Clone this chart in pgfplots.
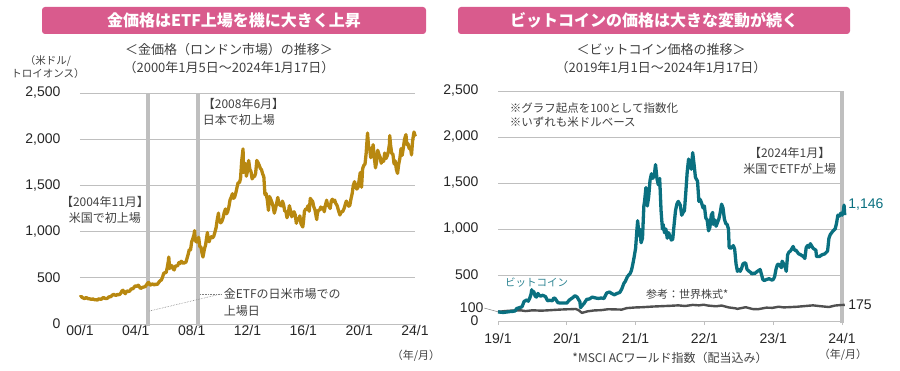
\documentclass[border=0pt]{standalone}
\usepackage{pgfplots}
\pgfplotsset{compat=1.18}
\usepackage{fontspec}
\setmainfont{Liberation Sans}
\newfontfamily\jp{Noto Sans CJK JP}
\definecolor{goldc}{RGB}{184,136,16}
\definecolor{tealc}{RGB}{10,112,128}
\definecolor{stockc}{RGB}{80,80,80}
\definecolor{pinkc}{RGB}{217,91,141}
\definecolor{gridgray}{RGB}{191,191,191}
\definecolor{txt}{RGB}{64,64,64}
\pgfplotsset{
 myax/.style={scale only axis, axis line style={draw=none},
  ymajorgrids, grid style={draw=gridgray, line width=0.9pt},
  ymin=0, ymax=2500,
  ytick={0,500,1000,1500,2000,2500},
  yticklabels={0,500,{1,000},{1,500},{2,000},{2,500}},
  tick align=outside, xtick pos=bottom, ytick pos=left,
  ytick style={draw=none},
  xtick style={draw=gridgray, line width=0.9pt},
  major tick length=4pt,
  tick label style={font=\fontsize{14}{16}\selectfont, text=black!85},
  /pgf/number format/assume math mode=true,
  yticklabel style={xshift=-12pt},
  clip=false}
}
\begin{document}
\begin{tikzpicture}
\path[use as bounding box] (0,0) rectangle (900pt,370pt);
% ---------- left: gold ----------
\begin{axis}[myax, at={(80pt,46pt)}, anchor=south west, width=335pt, height=231pt,
 xmin=2000, xmax=2024,
 xtick={2000,2004,2008,2012,2016,2020,2024},
 xticklabels={00/1,04/1,08/1,12/1,16/1,20/1,24/1},
 xticklabel style={yshift=6pt}]
\draw[gridgray, line width=3.5pt] (axis cs:2004.87,-25) -- (axis cs:2004.87,2500);
\draw[gridgray, line width=3.5pt] (axis cs:2008.46,-25) -- (axis cs:2008.46,2500);
\addplot[goldc, line width=3.3pt, line join=round] coordinates {
(2000.00,290) (2000.08,300) (2000.17,286) (2000.25,280) (2000.33,275) (2000.42,286) (2000.50,282) (2000.58,274) (2000.67,273) (2000.75,270) (2000.83,266) (2000.92,272)
(2001.00,265) (2001.08,262) (2001.17,263) (2001.25,258) (2001.33,272) (2001.42,270) (2001.50,268) (2001.58,273) (2001.67,288) (2001.75,280) (2001.83,276) (2001.92,276)
(2002.00,282) (2002.08,295) (2002.17,294) (2002.25,302) (2002.33,314) (2002.42,321) (2002.50,313) (2002.58,310) (2002.67,319) (2002.75,317) (2002.83,319) (2002.92,333)
(2003.00,357) (2003.08,365) (2003.17,340) (2003.25,328) (2003.33,355) (2003.42,356) (2003.50,351) (2003.58,360) (2003.67,382) (2003.75,379) (2003.83,389) (2003.92,407)
(2004.00,414) (2004.08,405) (2004.17,420) (2004.25,404) (2004.33,384) (2004.42,392) (2004.50,398) (2004.58,400) (2004.67,405) (2004.75,420) (2004.83,439) (2004.92,450)
(2005.00,424) (2005.08,423) (2005.17,434) (2005.25,429) (2005.33,422) (2005.42,435) (2005.50,424) (2005.58,437) (2005.67,456) (2005.75,470) (2005.83,476) (2005.92,510)
(2006.00,549) (2006.08,555) (2006.17,557) (2006.25,610) (2006.33,680) (2006.36,725) (2006.42,600) (2006.50,633) (2006.58,632) (2006.67,598) (2006.75,585) (2006.83,627) (2006.92,629)
(2007.00,631) (2007.08,664) (2007.17,655) (2007.25,679) (2007.33,667) (2007.42,655) (2007.50,665) (2007.58,665) (2007.67,712) (2007.75,754) (2007.83,806) (2007.92,803)
(2008.00,889) (2008.08,922) (2008.17,968) (2008.21,1011) (2008.25,909) (2008.33,888) (2008.42,890) (2008.50,939) (2008.58,839) (2008.67,829) (2008.75,760) (2008.81,725) (2008.92,816)
(2009.00,858) (2009.08,943) (2009.13,990) (2009.17,924) (2009.25,890) (2009.33,928) (2009.42,945) (2009.50,934) (2009.58,949) (2009.67,996) (2009.75,1043) (2009.83,1127) (2009.92,1200) (2009.96,1120)
(2010.00,1118) (2010.08,1095) (2010.17,1113) (2010.25,1148) (2010.33,1205) (2010.42,1245) (2010.50,1193) (2010.58,1215) (2010.67,1271) (2010.75,1343) (2010.83,1370) (2010.92,1410)
(2011.00,1360) (2011.08,1374) (2011.17,1424) (2011.25,1480) (2011.33,1530) (2011.42,1529) (2011.50,1572) (2011.58,1756) (2011.68,1895) (2011.72,1640) (2011.75,1650) (2011.83,1739) (2011.92,1600)
(2012.00,1656) (2012.08,1770) (2012.17,1674) (2012.25,1650) (2012.33,1570) (2012.42,1596) (2012.50,1594) (2012.58,1630) (2012.67,1770) (2012.75,1747) (2012.83,1722) (2012.92,1684)
(2013.00,1671) (2013.08,1627) (2013.17,1593) (2013.25,1400) (2013.33,1414) (2013.42,1343) (2013.50,1230) (2013.58,1380) (2013.67,1348) (2013.75,1316) (2013.83,1275) (2013.92,1200)
(2014.00,1244) (2014.08,1300) (2014.17,1370) (2014.25,1299) (2014.33,1287) (2014.42,1279) (2014.50,1330) (2014.58,1296) (2014.67,1220) (2014.75,1222) (2014.83,1150) (2014.92,1200)
(2015.00,1280) (2015.08,1227) (2015.17,1160) (2015.25,1198) (2015.33,1215) (2015.42,1181) (2015.50,1090) (2015.58,1140) (2015.67,1125) (2015.75,1170) (2015.83,1086) (2015.96,1050)
(2016.00,1097) (2016.08,1220) (2016.17,1246) (2016.25,1242) (2016.33,1280) (2016.42,1220) (2016.50,1360) (2016.58,1341) (2016.67,1326) (2016.75,1267) (2016.83,1238) (2016.96,1130)
(2017.00,1192) (2017.08,1234) (2017.17,1231) (2017.25,1266) (2017.33,1246) (2017.42,1260) (2017.50,1215) (2017.58,1283) (2017.67,1340) (2017.75,1280) (2017.83,1283) (2017.92,1250)
(2018.00,1331) (2018.08,1350) (2018.17,1325) (2018.25,1340) (2018.33,1303) (2018.42,1282) (2018.50,1238) (2018.62,1180) (2018.67,1198) (2018.75,1215) (2018.83,1220) (2018.92,1250)
(2019.00,1291) (2019.08,1330) (2019.17,1300) (2019.25,1275) (2019.33,1284) (2019.42,1359) (2019.50,1413) (2019.58,1500) (2019.67,1540) (2019.75,1495) (2019.83,1460) (2019.92,1480)
(2020.00,1560) (2020.08,1640) (2020.17,1480) (2020.25,1683) (2020.33,1715) (2020.42,1732) (2020.50,1847) (2020.60,2067) (2020.67,1921) (2020.75,1900) (2020.83,1800) (2020.92,1858)
(2021.00,1940) (2021.08,1808) (2021.17,1690) (2021.25,1760) (2021.33,1880) (2021.42,1834) (2021.50,1807) (2021.58,1740) (2021.67,1776) (2021.75,1760) (2021.83,1850) (2021.92,1790)
(2022.00,1817) (2022.08,1856) (2022.17,1948) (2022.19,2039) (2022.25,1937) (2022.33,1849) (2022.42,1836) (2022.50,1733) (2022.58,1766) (2022.67,1670) (2022.75,1630) (2022.83,1726) (2022.92,1798)
(2023.00,1898) (2023.08,1825) (2023.17,1912) (2023.25,1999) (2023.35,2050) (2023.42,1942) (2023.50,1951) (2023.58,1900) (2023.67,1915) (2023.75,1830) (2023.83,1985) (2023.93,2078) (2024.00,2040) (2024.04,2030)
};
\node[font=\jp\fontsize{12}{16}\selectfont, text=txt, align=center] at (axis cs:2001.79,1239) {【2004年11月】\\米国で初上場};
\node[font=\jp\fontsize{12}{16}\selectfont, text=txt, align=left, anchor=west] at (axis cs:2008.55,2294) {【2008年6月】\\日本で初上場};
\node[font=\jp\fontsize{12}{17}\selectfont, text=txt, align=left, anchor=west] at (axis cs:2010.05,232) {金ETFの日米市場での\\上場日};
\draw[gray, densely dotted, line width=0.6pt] (axis cs:2004.99,141) -- (axis cs:2010.1,325);
\draw[gray, densely dotted, line width=0.6pt] (axis cs:2008.6,325) -- (axis cs:2010.1,325);
\end{axis}
% ---------- right: bitcoin ----------
\begin{axis}[myax, at={(498pt,49pt)}, anchor=south west, width=344pt, height=230pt,
 xmin=2019, xmax=2024,
 xtick={2019,2020,2021,2022,2023,2024},
 xticklabels={19/1,20/1,21/1,22/1,23/1,24/1},
 xticklabel style={yshift=-5pt}]
\draw[gridgray, line width=4pt] (axis cs:2024.0,-25) -- (axis cs:2024.0,2500);
\addplot[stockc, line width=2.4pt, line join=round] coordinates {
(2019.00,100) (2019.05,103) (2019.10,108) (2019.18,112) (2019.25,115) (2019.33,116) (2019.40,108) (2019.50,116) (2019.58,114) (2019.62,112) (2019.70,115) (2019.75,117) (2019.83,121) (2019.90,124) (2019.99,127)
(2020.05,128) (2020.13,131) (2020.17,118) (2020.22,88) (2020.30,105) (2020.40,115) (2020.50,118) (2020.60,128) (2020.70,126) (2020.80,124) (2020.87,140) (2020.99,147)
(2021.10,150) (2021.25,157) (2021.40,162) (2021.50,165) (2021.62,170) (2021.72,163) (2021.83,175) (2021.92,170) (2021.99,177)
(2022.05,168) (2022.17,160) (2022.25,168) (2022.35,148) (2022.45,138) (2022.48,132) (2022.60,150) (2022.70,130) (2022.78,128) (2022.90,145) (2022.99,143)
(2023.08,155) (2023.15,148) (2023.22,150) (2023.35,155) (2023.50,165) (2023.58,170) (2023.70,160) (2023.81,152) (2023.90,168) (2023.99,174) (2024.04,175)
};
\addplot[tealc, line width=3.3pt, line join=round] coordinates {
(2019.00,100) (2019.04,95) (2019.08,93) (2019.12,97) (2019.17,102) (2019.21,104) (2019.25,110) (2019.27,135) (2019.31,145) (2019.35,155) (2019.38,215) (2019.40,220) (2019.42,230) (2019.44,215) (2019.46,245) (2019.48,290) (2019.49,340) (2019.50,300) (2019.52,320) (2019.54,270) (2019.56,260) (2019.58,300) (2019.60,280) (2019.62,270) (2019.65,280) (2019.69,265) (2019.72,220) (2019.75,225) (2019.79,220) (2019.81,250) (2019.83,245) (2019.87,200) (2019.90,195) (2019.94,195) (2019.97,195)
(2020.00,195) (2020.04,230) (2020.08,250) (2020.12,275) (2020.15,260) (2020.17,235) (2020.19,210) (2020.20,145) (2020.22,165) (2020.25,190) (2020.29,235) (2020.33,240) (2020.37,260) (2020.42,250) (2020.46,245) (2020.50,250) (2020.54,245) (2020.58,305) (2020.62,315) (2020.65,300) (2020.69,285) (2020.73,300) (2020.77,310) (2020.80,350) (2020.83,410) (2020.85,430) (2020.88,480) (2020.90,500) (2020.92,515) (2020.94,550) (2020.96,620) (2020.98,700)
(2021.00,790) (2021.02,1000) (2021.03,1090) (2021.05,930) (2021.06,1000) (2021.08,850) (2021.10,900) (2021.12,1250) (2021.13,1300) (2021.15,1450) (2021.17,1250) (2021.19,1350) (2021.21,1530) (2021.23,1600) (2021.25,1550) (2021.27,1580) (2021.29,1700) (2021.31,1550) (2021.33,1480) (2021.35,1550) (2021.37,1200) (2021.39,1000) (2021.40,1050) (2021.42,960) (2021.44,1000) (2021.46,900) (2021.48,960) (2021.50,920) (2021.52,880) (2021.54,890) (2021.56,1050) (2021.58,1200) (2021.60,1270) (2021.62,1300) (2021.65,1260) (2021.67,1150) (2021.69,1180) (2021.71,1200) (2021.73,1400) (2021.75,1620) (2021.77,1760) (2021.79,1700) (2021.81,1650) (2021.83,1830) (2021.85,1700) (2021.87,1560) (2021.90,1520) (2021.92,1300) (2021.94,1320) (2021.96,1280) (2021.98,1230)
(2022.00,1250) (2022.02,1120) (2022.04,1100) (2022.06,980) (2022.08,1020) (2022.10,1150) (2022.12,1180) (2022.13,1050) (2022.15,1100) (2022.17,1030) (2022.19,1070) (2022.21,1110) (2022.23,1180) (2022.25,1270) (2022.27,1230) (2022.29,1110) (2022.31,1060) (2022.33,1050) (2022.35,1000) (2022.36,800) (2022.38,790) (2022.40,800) (2022.42,820) (2022.44,780) (2022.46,620) (2022.48,540) (2022.50,560) (2022.52,540) (2022.54,570) (2022.56,620) (2022.58,630) (2022.60,630) (2022.62,560) (2022.65,540) (2022.67,530) (2022.69,510) (2022.71,520) (2022.73,515) (2022.77,540) (2022.81,560) (2022.85,450) (2022.87,440) (2022.90,450) (2022.94,460) (2022.98,445)
(2023.00,450) (2023.02,480) (2023.04,560) (2023.06,610) (2023.08,620) (2023.12,580) (2023.13,650) (2023.17,600) (2023.19,540) (2023.21,720) (2023.23,750) (2023.25,760) (2023.29,810) (2023.31,770) (2023.33,770) (2023.37,730) (2023.40,720) (2023.44,700) (2023.46,680) (2023.48,800) (2023.50,820) (2023.52,800) (2023.54,840) (2023.58,790) (2023.62,770) (2023.63,700) (2023.67,700) (2023.71,720) (2023.75,730) (2023.79,760) (2023.81,900) (2023.83,940) (2023.87,980) (2023.90,1000) (2023.92,1060) (2023.94,1150) (2023.96,1140) (2023.98,1170)
(2024.00,1150) (2024.02,1200) (2024.03,1260) (2024.04,1150)
};
\node[font=\fontsize{14}{16}\selectfont, text=black!85, anchor=east, inner sep=0pt] at (axis cs:2018.79,141) {100};
\draw[gray, line width=0.5pt] (axis cs:2018.80,141) -- (axis cs:2019,100);
\node[font=\jp\fontsize{11.5}{14}\selectfont, text=txt, align=left, anchor=west] at (axis cs:2019.12,2234) {※グラフ起点を100として指数化\\※いずれも米ドルベース};
\node[font=\jp\fontsize{12}{16}\selectfont, text=txt, align=center] at (axis cs:2023.24,1745) {【2024年1月】\\米国でETFが上場};
\node[font=\fontsize{14}{16}\selectfont, text=tealc, anchor=west, inner sep=0pt] at (axis cs:2024.09,1261) {1,146};
\node[font=\fontsize{14}{16}\selectfont, text=black!85, anchor=west, inner sep=0pt] at (axis cs:2024.09,174) {175};
\node[font=\jp\fontsize{10.5}{12}\selectfont, text=tealc!85, anchor=west, inner sep=0pt] at (axis cs:2019.10,413) {ビットコイン};
\node[font=\jp\fontsize{11}{13}\selectfont, text=txt, anchor=west, inner sep=0pt] at (axis cs:2021.15,293) {参考：世界株式*};
\end{axis}
% ---------- titles and labels ----------
\fill[pinkc, rounded corners=3pt] (42pt,336pt) rectangle (426pt,363pt);
\node[font=\jp\bfseries\fontsize{16}{18}\selectfont, text=white] at (234pt,350pt) {金価格はETF上場を機に大きく上昇};
\fill[pinkc, rounded corners=3pt] (458pt,336pt) rectangle (850pt,363pt);
\node[font=\jp\bfseries\fontsize{16}{18}\selectfont, text=white] at (654pt,350pt) {ビットコインの価格は大きな変動が続く};
\node[font=\jp\fontsize{13}{18}\selectfont, text=txt, align=center] at (229pt,311pt) {＜金価格（ロンドン市場）の推移＞\\（2000年1月5日～2024年1月17日）};
\node[font=\jp\fontsize{13}{18}\selectfont, text=txt, align=center] at (661pt,311pt) {＜ビットコイン価格の推移＞\\（2019年1月1日～2024年1月17日）};
\node[font=\jp\fontsize{10.5}{13}\selectfont, text=txt, align=center] at (48pt,303pt) {（米ドル/\\トロイオンス）};
\node[font=\jp\fontsize{11}{13}\selectfont, text=txt] at (416pt,14pt) {（年/月）};
\node[font=\jp\fontsize{11}{13}\selectfont, text=txt] at (843pt,15pt) {（年/月）};
\node[font=\jp\fontsize{12}{14}\selectfont, text=txt] at (670pt,12pt) {*MSCI ACワールド指数（配当込み）};
\end{tikzpicture}
\end{document}
